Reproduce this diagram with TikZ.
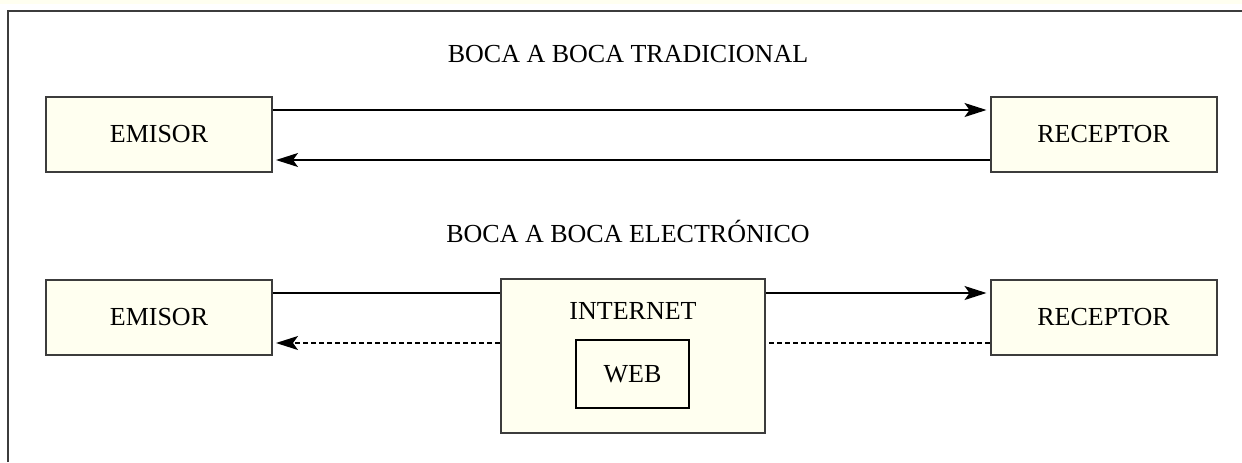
\documentclass[tikz,border=0pt]{standalone}
\usepackage{fontspec}
\setmainfont{Liberation Serif}
\usetikzlibrary{arrows.meta,positioning}
\definecolor{crema}{RGB}{255,255,240}
\definecolor{borde}{RGB}{60,60,60}
\tikzset{
  basic/.style  = {draw=borde, line width=1pt, fill=crema, rectangle,
                   font=\fontsize{13}{15}\selectfont},
  actor/.style  = {basic, minimum width=113pt, minimum height=37.5pt},
  red/.style    = {basic, minimum width=132pt, minimum height=77pt},
  sitio/.style  = {draw, line width=0.8pt, fill=crema, rectangle,
                   minimum width=56.5pt, minimum height=34pt,
                   font=\fontsize{13}{15}\selectfont},
  titulo/.style = {font=\fontsize{13}{15}\selectfont, anchor=base},
  flecha/.style = {line width=0.7pt, -{Stealth[length=11pt,width=7pt,inset=2.5pt]},
                   shorten >=1.5pt},
  linea/.style  = {line width=0.7pt},
  punteada/.style = {line width=0.7pt, dash pattern=on 2.5pt off 1.5pt}
}

\begin{document}
\begin{tikzpicture}[x=0.5pt,y=-0.5pt]
\useasboundingbox (0,0) rectangle (1242,462);

% marco
\fill[crema] (0,0) rectangle (1242,3.5);
\draw[line width=1pt, borde] (8,462) -- (8,11) -- (1242,11);

% boca a boca tradicional
\node[titulo] (t1) at (628,62) {BOCA A BOCA TRADICIONAL};
\node[actor] (e1) at (159,134.5) {EMISOR};
\node[actor] (r1) at (1103.5,134.5) {RECEPTOR};

\draw[flecha] ([yshift=12.25pt]e1.east) -- ([yshift=12.25pt]r1.west);
\draw[flecha] ([yshift=-12.75pt]r1.west) -- ([yshift=-12.75pt]e1.east);

% boca a boca electronico
\node[titulo] (t2) at (628,242) {BOCA A BOCA ELECTRÓNICO};
\node[actor] (e2) at (159,317) {EMISOR};
\node[actor] (r2) at (1103.5,317) {RECEPTOR};
\node[red] (i) at (633,356) {};
\node[titulo] (it) at (633,319) {INTERNET};
\node[sitio] (w) at (632.5,374) {WEB};

\draw[linea] ([yshift=12pt]e2.east) -- ([yshift=12pt]e2.east -| i.west);
\draw[flecha] ([yshift=12pt]r2.west -| i.east) -- ([yshift=12pt]r2.west);
\draw[punteada] ([yshift=-13pt]r2.west) -- ([yshift=-13pt]r2.west -| i.east);
\draw[punteada, flecha]
  ([yshift=-13pt]e2.east -| i.west) -- ([yshift=-13pt]e2.east);
\end{tikzpicture}
\end{document}
